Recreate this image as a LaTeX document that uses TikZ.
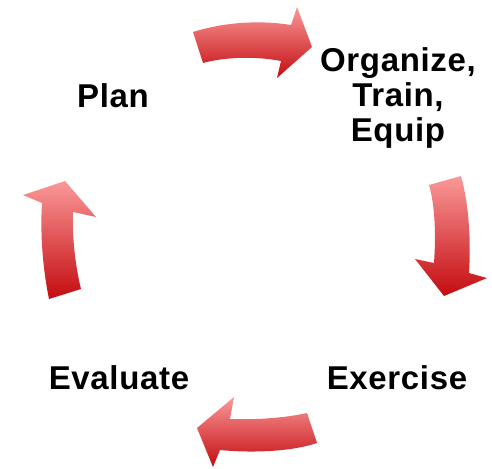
\documentclass[tikz,border=0pt]{standalone}
\usepackage{fontspec}
\setmainfont{Liberation Sans}[LetterSpace=2]
\definecolor{arrtop}{RGB}{250,152,152}
\definecolor{arrbot}{RGB}{196,12,16}
\begin{document}
\begin{tikzpicture}[x=1pt,y=-1pt,
  lbl/.style={font=\bfseries\fontsize{33}{35}\selectfont, inner sep=0pt, anchor=base, align=center},
  cyc/.style={top color=arrtop, bottom color=arrbot, draw=none}]
\useasboundingbox (0,0) rectangle (492,468);
% arrows
\shade[cyc] (193,32) .. controls (225,22) and (260,20) .. (291,25) -- (297,7) -- (312,47) -- (277,78) -- (281,61) .. controls (255,56) and (225,57) .. (203,63) -- cycle;
\shade[cyc] (429,185) -- (461,176) .. controls (469,205) and (471,240) .. (469,273) -- (487,278) -- (444,296) -- (415,259) -- (434,263) .. controls (436,235) and (435,205) .. (429,185) -- cycle;
\shade[cyc] (307,413) -- (317,443) .. controls (290,452) and (250,453) .. (220,450) -- (213,467) -- (197,428) -- (234,397) -- (230,419) .. controls (255,420) and (285,418) .. (307,413) -- cycle;
\shade[cyc] (49,299) -- (81,289) .. controls (75,265) and (72,235) .. (73,212) -- (96,217) -- (65,181) -- (23,195) -- (42,203) .. controls (40,235) and (43,270) .. (49,299) -- cycle;
% labels
\node[lbl] (plan) at (113,107) {Plan};
\node[lbl] (org) at (398,141) {Organize,\\Train,\\Equip};
\node[lbl] (exer) at (397,389) {Exercise};
\node[lbl] (eval) at (119,389) {Evaluate};
\end{tikzpicture}
\end{document}
